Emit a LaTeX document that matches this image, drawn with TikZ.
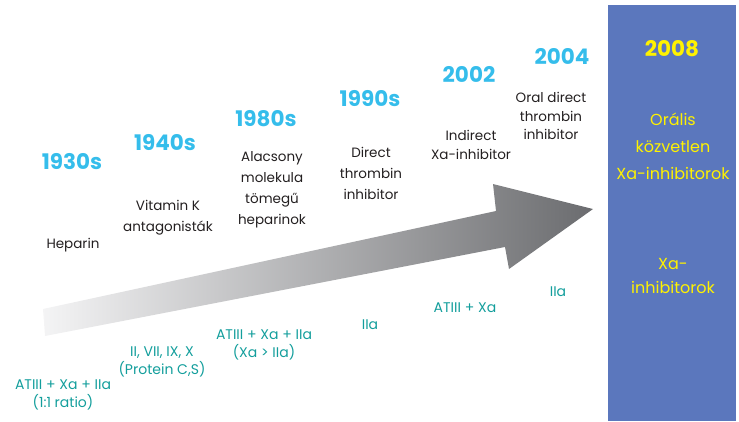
\documentclass[tikz,border=0pt]{standalone}
\usepackage{fontspec}
\setmainfont{Poppins}
\definecolor{yearblue}{HTML}{35BDEB}
\definecolor{darktext}{HTML}{231F20}
\definecolor{tealtext}{HTML}{139E9C}
\definecolor{panelblue}{HTML}{5B77BD}
\definecolor{panelyellow}{HTML}{FFF200}
\definecolor{arrowlight}{HTML}{F4F4F5}
\definecolor{arrowdark}{HTML}{6B6C6F}
\begin{document}
\begin{tikzpicture}[x=1pt,y=-1pt,
  every node/.style={inner sep=0pt, outer sep=0pt},
  year/.style={text=yearblue, font=\bfseries\fontsize{21.5}{24}\selectfont},
  yearw/.style={text=panelyellow, font=\bfseries\fontsize{21.5}{24}\selectfont},
  lbl/.style={text=darktext, align=center, font=\fontsize{13.5}{21}\selectfont},
  lbls/.style={text=darktext, align=center, font=\fontsize{13.5}{18.5}\selectfont},
  tl/.style={text=tealtext, align=center, font=\fontsize{14}{18.5}\selectfont},
  yl/.style={text=panelyellow, align=center, font=\fontsize{16}{27}\selectfont},
  yl2/.style={text=panelyellow, align=center, font=\fontsize{16}{24}\selectfont}]
\path[use as bounding box] (0,0) rectangle (739,421);
% blue panel
\fill[panelblue] (608,5) rectangle (736,421);
% gradient arrow
\shade[left color=arrowlight, right color=arrowdark]
  (43,309) -- (496,211) -- (493,184) -- (593,209) -- (509,269) -- (505,247) -- (45,336) -- cycle;
% years
\node[year] (y1930) at (72,162) {1930s};
\node[year] (y1940) at (165,143) {1940s};
\node[year] (y1980) at (266,119) {1980s};
\node[year] (y1990) at (370,99) {1990s};
\node[year] (y2002) at (469,74) {2002};
\node[year] (y2004) at (562,56) {2004};
\node[yearw] (y2008) at (672,49) {2008};
% drug classes
\node[lbl] (heparin) at (73,245) {Heparin};
\node[lbl] (vitk) at (168,218) {Vitamin K\\antagonisták};
\node[lbl] (lmwh) at (272,190) {Alacsony\\molekula\\tömegű\\heparinok};
\node[lbl] (dti) at (371,173) {Direct\\thrombin\\inhibitor};
\node[lbls] (ixa) at (471,145) {Indirect\\Xa-inhibitor};
\node[lbls] (odti) at (551,116) {Oral direct\\thrombin\\inhibitor};
% targets
\node[tl] (t1) at (63,395) {ATIII + Xa + IIa\\(1:1 ratio)};
\node[tl] (t2) at (162,362) {II, VII, IX, X\\(Protein C,S)};
\node[tl] (t3) at (264,345) {ATIII + Xa + IIa\\(Xa > IIa)};
\node[tl] (t4) at (370,325) {IIa};
\node[tl] (t5) at (465,308) {ATIII + Xa};
\node[tl] (t6) at (558,292) {IIa};
% panel texts
\node[yl] (oral) at (673,146) {Orális\\közvetlen\\Xa-inhibitorok};
\node[yl2] (xa) at (673,276) {Xa-\\inhibitorok};
\end{tikzpicture}
\end{document}
